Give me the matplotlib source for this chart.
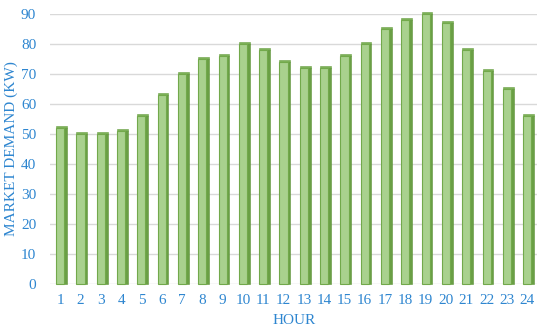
import matplotlib.pyplot as plt
import numpy as np

hours = list(range(1, 25))
demand = [52, 50, 50, 51, 56, 63, 70, 75, 76, 80, 78, 74,
          72, 72, 76, 80, 85, 88, 90, 87, 78, 71, 65, 56]
yticks = [0, 10, 20, 30, 40, 50, 60, 70, 80, 90]

blue = '#2e86d0'
plt.rcParams['font.family'] = ['Liberation Serif', 'DejaVu Serif']

fig = plt.figure(figsize=(5.5, 3.34), dpi=100)
ax = fig.add_axes([0.091, 0.150, 0.886, 0.808])

x = np.array(hours, dtype=float)
y = np.array(demand, dtype=float)
w = 0.4
side = 0.13
# side face (darker), front face, small top cap
ax.bar(x + w / 2 + side / 2, y, width=side, color='#6a9f45',
       edgecolor='#5e9439', linewidth=0.4, zorder=2, clip_on=False)
ax.bar(x, y, width=w, color='#a9d18e', edgecolor='#72a94b', linewidth=0.8,
       zorder=3, clip_on=False)
ax.bar(x + side / 2, 0.7, bottom=y, width=w + side, color='#7db158',
       edgecolor='#6aa043', linewidth=0.4, zorder=1, clip_on=False)

ax.set_xlim(0.5, 24.5)
ax.set_ylim(0, 90)
ax.set_yticks(yticks)
ax.set_xticks(hours)
ax.grid(axis='y', color='#d9d9d9', linewidth=1.0, zorder=0)
ax.set_axisbelow(True)
for s in ax.spines.values():
    s.set_visible(False)
ax.tick_params(length=0, colors=blue, labelsize=11)
ax.tick_params(axis='x', pad=7)
ax.tick_params(axis='y', pad=10)
ax.set_xlabel('HOUR', color=blue, fontsize=11, labelpad=5)
ax.set_ylabel('MARKET DEMAND (KW)', color=blue, fontsize=11, labelpad=2)

fig.savefig('out.png', dpi=100)
